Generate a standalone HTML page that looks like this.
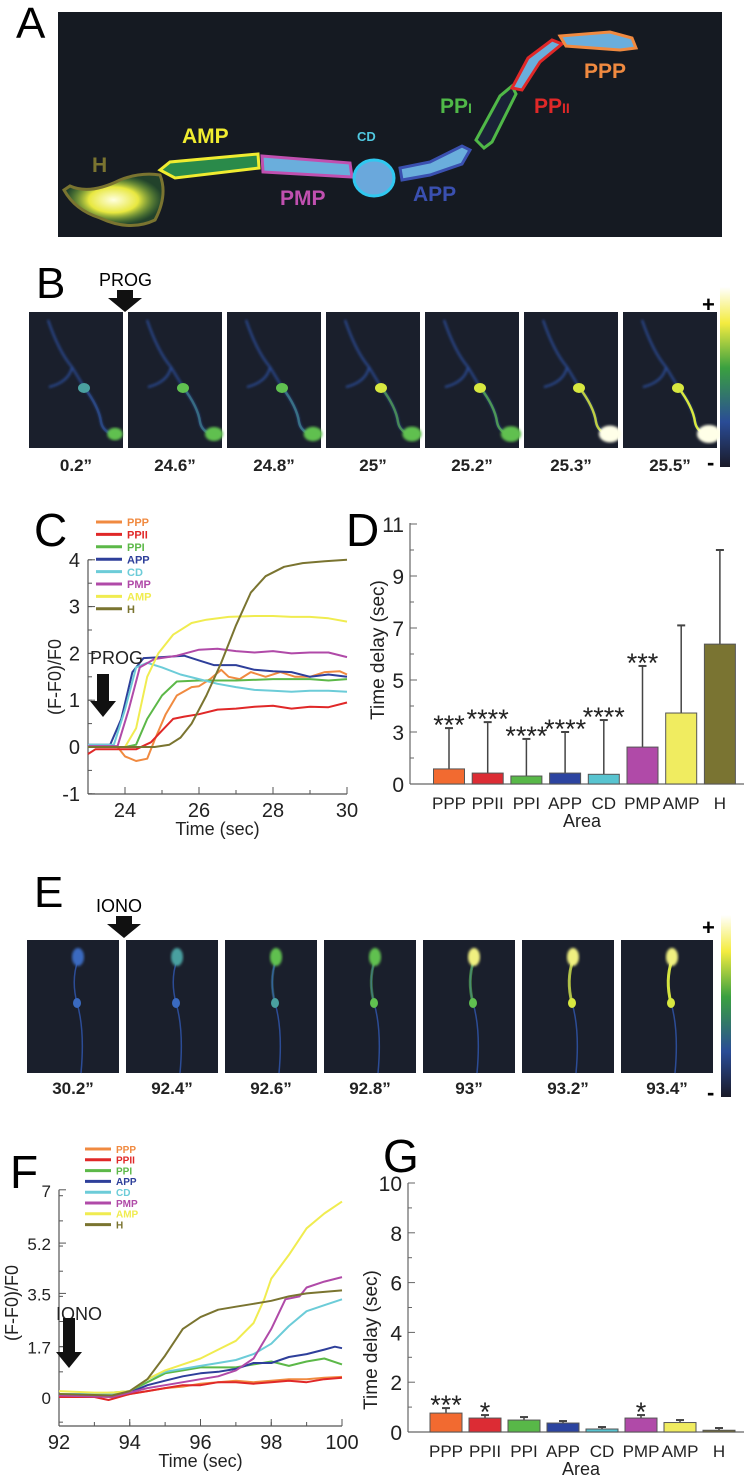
<!DOCTYPE html>
<html><head><meta charset="utf-8"><style>
html,body{margin:0;padding:0;background:#fff;}
svg{display:block;font-family:"Liberation Sans",sans-serif;}
</style></head><body>
<svg id="fig" width="744" height="1478" viewBox="0 0 744 1478" xmlns="http://www.w3.org/2000/svg">
<defs>
<linearGradient id="cbar" x1="0" y1="0" x2="0" y2="1">
<stop offset="0" stop-color="#ffffff"/><stop offset="0.2" stop-color="#f4ec40"/><stop offset="0.45" stop-color="#3aa040"/><stop offset="0.75" stop-color="#2a4c96"/><stop offset="1" stop-color="#1a1a28"/>
</linearGradient>
<radialGradient id="glowY"><stop offset="0" stop-color="#ffffe0"/><stop offset="0.5" stop-color="#e8e840"/><stop offset="1" stop-color="#40a040" stop-opacity="0.3"/></radialGradient>
<filter id="blur1"><feGaussianBlur stdDeviation="1.2"/></filter>
</defs>

<!-- Panel A -->
<text x="16" y="38" font-size="44">A</text>
<g>
<rect x="58" y="12" width="664" height="225" fill="#151a22"/>
<path d="M64,190 Q75,210 100,218 Q130,232 155,220 Q168,195 160,175 Q140,172 120,180 Q90,195 70,186 Z" fill="url(#glowY)" stroke="#7a7430" stroke-width="3"/>
<path d="M160,170 L170,162 L258,154 L259,168 L175,178 Z" fill="#2a8a4a" stroke="#f0ec30" stroke-width="3"/>
<path d="M262,156 L350,163 L352,177 L263,172 Z" fill="#6aaedc" stroke="#c050b0" stroke-width="3"/>
<ellipse cx="374" cy="178" rx="20" ry="18" fill="#6aa8dc" stroke="#30c8f0" stroke-width="3"/>
<path d="M400,168 L430,162 L462,146 L470,150 L462,164 L430,175 L402,180 Z" fill="#6aaedc" stroke="#3a50b0" stroke-width="3"/>
<path d="M476,140 L500,96 L512,86 L516,94 L492,142 L484,148 Z" fill="#1a2236" stroke="#50b848" stroke-width="3"/>
<path d="M512,88 L528,58 L552,40 L562,44 L540,62 L522,90 Z" fill="#6aaedc" stroke="#e02828" stroke-width="3"/>
<path d="M560,36 L610,32 L632,38 L636,48 L620,50 L566,46 Z" fill="#6aaedc" stroke="#f08a40" stroke-width="3"/>
<g font-weight="bold" font-size="21">
<text x="92" y="172" fill="#7a7430">H</text>
<text x="182" y="143" fill="#f0ec30">AMP</text>
<text x="357" y="141" fill="#50c8e0" font-size="13">CD</text>
<text x="280" y="205" fill="#c050b0">PMP</text>
<text x="413" y="201" fill="#3a50b0">APP</text>
<text x="440" y="113" fill="#50b848">PP<tspan font-size="14">I</tspan></text>
<text x="534" y="113" fill="#e02828">PP<tspan font-size="14">II</tspan></text>
<text x="584" y="78" fill="#f08a40">PPP</text>
</g>
</g>

<!-- Panel B -->
<text x="36" y="298" font-size="44">B</text>
<text x="99" y="286" font-size="18">PROG</text>
<path d="M117,290 h16 v8 h9 l-17,14 l-17,-14 h9 z" fill="#111"/>
<g id="framesB"></g>
<rect x="720" y="287" width="10" height="180" fill="url(#cbar)"/>
<text x="702" y="312" font-size="22" font-weight="bold">+</text>
<text x="707" y="470" font-size="22" font-weight="bold">-</text>

<!-- Panel E -->
<text x="34" y="907" font-size="44">E</text>
<text x="96" y="912" font-size="18">IONO</text>
<path d="M116,916 h16 v8 h9 l-17,14 l-17,-14 h9 z" fill="#111"/>
<g id="framesE"></g>
<rect x="721" y="915" width="10" height="182" fill="url(#cbar)"/>
<text x="702" y="935" font-size="22" font-weight="bold">+</text>
<text x="707" y="1100" font-size="22" font-weight="bold">-</text>

<text x="34" y="546" font-size="46">C</text>
<text x="346" y="546" font-size="46">D</text>
<text x="10" y="1188" font-size="46">F</text>
<text x="383" y="1172" font-size="46">G</text>

<g id="chartC"></g>
<g id="chartD"></g>
<g id="chartF"></g>
<g id="chartG"></g>
</svg>

<script>
// ---------- Panel C data ----------
const cXTicks = [24, 26, 28, 30];
const cYTicks = [-1, 0, 1, 2, 3, 4];
const cPPP_t = [23,23.8,24,24.3,24.6,24.8,25.1,25.4,25.8,26,26.3,26.6,26.8,27.1,27.4,27.8,28.2,28.6,29,29.4,29.8,30];
const cPPP_v = [0,0,-0.2,-0.3,-0.25,0.15,0.7,1.1,1.28,1.3,1.45,1.65,1.5,1.45,1.6,1.5,1.6,1.5,1.5,1.6,1.62,1.55];
const cPPII_t = [23,23.2,24,24.3,24.7,25,25.3,25.6,26,26.5,27,27.5,28,28.5,29,29.5,30];
const cPPII_v = [-0.15,-0.05,-0.05,-0.05,0.1,0.35,0.6,0.65,0.7,0.8,0.82,0.86,0.88,0.82,0.86,0.85,0.95];
const cPPI_t = [23,24,24.3,24.6,25,25.4,26,27,28,29,29.5,30];
const cPPI_v = [0,0,0.05,0.6,1.1,1.4,1.42,1.42,1.45,1.45,1.42,1.45];
const cAPP_t = [23,23.6,23.9,24.2,24.5,25,25.6,26,26.4,27,27.5,28,28.5,29,29.5,30];
const cAPP_v = [0.05,0.05,0.6,1.6,1.9,1.92,1.95,1.85,1.75,1.75,1.65,1.62,1.6,1.5,1.55,1.5];
const cCD_t = [23,23.7,24,24.3,24.6,25,25.5,26,26.5,27,27.5,28,28.5,29,29.5,30];
const cCD_v = [0.05,0.05,0.8,1.7,1.8,1.7,1.55,1.45,1.35,1.28,1.22,1.2,1.18,1.2,1.2,1.18];
const cPMP_t = [23,23.8,24.1,24.4,24.8,25.4,26,26.5,27,27.5,28,28.5,29,29.5,30];
const cPMP_v = [0.02,0.02,0.8,1.7,1.88,1.95,2.08,2.1,2.05,2.02,2.05,2.0,2.02,2.02,1.92];
const cAMP_t = [23,24,24.3,24.6,24.9,25.3,25.8,26.2,26.8,27.5,28,28.5,29,29.5,30];
const cAMP_v = [0,0,0.4,1.5,2.0,2.4,2.65,2.72,2.78,2.8,2.8,2.78,2.78,2.75,2.68];
const cH_t = [23,24.8,25.2,25.5,25.8,26.2,26.6,27,27.4,27.8,28.3,28.8,29.4,30];
const cH_v = [0,0,0.05,0.2,0.5,1.1,1.8,2.6,3.3,3.65,3.85,3.93,3.97,4.0];

// ---------- Panel F data ----------
const fXTicks = [92, 94, 96, 98, 100];
const fYTicks = [0, 1.7, 3.5, 5.2, 7];
const fPPP_t = [92,93,93.5,94,94.5,95,95.5,96,96.5,97,97.5,98,98.5,99,99.5,100];
const fPPP_v = [0.05,0.02,0,0.1,0.2,0.3,0.35,0.45,0.5,0.55,0.5,0.55,0.6,0.6,0.65,0.68];
const fPPII_t = [92,92.5,93,93.4,94,94.5,95,95.5,96,96.5,97,97.5,98,98.5,99,99.5,100];
const fPPII_v = [0,0,0,-0.1,0.1,0.2,0.3,0.4,0.4,0.5,0.5,0.45,0.5,0.55,0.5,0.6,0.65];
const fPPI_t = [92,93,93.5,94,94.5,95,95.5,96,96.5,97,97.5,98,98.5,99,99.5,100];
const fPPI_v = [0.1,0.1,0.15,0.2,0.5,0.8,0.9,1.0,1.0,1.0,1.1,1.2,1.05,1.2,1.3,1.1];
const fAPP_t = [92,93.5,94,94.5,95,95.5,96,96.5,97,97.5,98,98.5,99,99.5,99.8,100];
const fAPP_v = [0.1,0.05,0.15,0.4,0.55,0.7,0.8,0.85,0.95,1.15,1.15,1.35,1.45,1.6,1.7,1.65];
const fCD_t = [92,93.5,94,94.5,95,95.5,96,96.5,97,97.5,98,98.5,99,99.5,100];
const fCD_v = [0.1,0.1,0.2,0.6,0.85,0.95,1.05,1.15,1.25,1.45,1.8,2.4,2.9,3.1,3.3];
const fPMP_t = [92,93.5,94,94.5,95,95.5,96,96.5,97,97.5,98,98.4,98.8,99,99.5,100];
const fPMP_v = [0.05,0,0.15,0.3,0.4,0.5,0.6,0.7,0.9,1.3,2.3,3.3,3.4,3.7,3.9,4.05];
const fAMP_t = [92,93,93.5,94,94.5,95,95.5,96,96.5,97,97.5,97.8,98,98.5,99,99.5,100];
const fAMP_v = [0.2,0.15,0.15,0.2,0.6,0.9,1.1,1.3,1.6,1.9,2.5,3.3,4.0,4.8,5.7,6.2,6.6];
const fH_t = [92,93.5,94,94.5,95,95.5,96,96.5,97,97.5,98,98.5,99,99.5,100];
const fH_v = [0.1,0.05,0.2,0.6,1.4,2.3,2.7,2.95,3.05,3.15,3.25,3.4,3.5,3.55,3.6];

// ---------- Panel D / G data ----------
const areas = ['PPP','PPII','PPI','APP','CD','PMP','AMP','H'];
const dMeans = [0.87,0.63,0.46,0.63,0.56,2.13,3.73,6.38];
const dErrTops = [3.15,3.38,2.6,3.0,3.46,5.54,7.1,10.0];
const dStars = ['***','****','****','****','****','***','',''];
const dYTicks = [0,3,5,7,9,11];
const gMeans = [0.76,0.56,0.48,0.36,0.12,0.56,0.38,0.07];
const gErrTops = [0.96,0.68,0.6,0.44,0.2,0.68,0.48,0.16];
const gStars = ['***','*','','','','*','',''];
const gYTicks = [0,2,4,6,8,10];

const areaColors = ['#f26a30','#dc2c34','#58b848','#2c44a0','#58c4d0','#b04aa8','#f0ec60','#7a7432'];
const lineColors = ['#f08a40','#e02828','#5cb848','#2e3f9a','#6cccd8','#b04aa8','#f0ec50','#7a7430'];

const NS = 'http://www.w3.org/2000/svg';
function mk(parent, tag, attrs, text) {
  const e = document.createElementNS(NS, tag);
  for (const k in attrs) e.setAttribute(k, attrs[k]);
  if (text !== undefined) e.textContent = text;
  parent.appendChild(e);
  return e;
}

function lineChart(g, cfg) {
  const {x0,x1,t0,t1,y0,v0,ppu,yBot,xTicks,yTicks,series,legY,legStep,legFont,legX,yLabelX,yLabelY,arrowLabel,arrow,tickFont,yTickFont,minorX,minorY,yMin,yMax} = cfg;
  const sx = t => x0 + (t - t0) / (t1 - t0) * (x1 - x0);
  const sy = v => y0 - (v - v0) * ppu;
  const yTop = sy(yMax);
  const ax = mk(g, 'line', {x1:x0, y1:yTop, x2:x0, y2:yBot, stroke:'#555', 'stroke-width':1.2});
  
  
  const bx = mk(g, 'line', {x1:x0, y1:yBot, x2:x1, y2:yBot, stroke:'#555', 'stroke-width':1.2});
  
  
  for (let t = t0; t <= t1 + 1e-6; t += minorX) {
    const tk = mk(g, 'line', {x1:sx(t), y1:yBot, x2:sx(t), y2:yBot-4, stroke:'#555'});
    
    
  }
  for (let v = yMin; v <= yMax + 1e-6; v += minorY) {
    const tk = mk(g, 'line', {x1:x0, y1:sy(v), x2:x0+4, y2:sy(v), stroke:'#555'});
    
    
  }
  xTicks.forEach(t => {
    const tk = mk(g, 'line', {x1:sx(t), y1:yBot, x2:sx(t), y2:yBot-7, stroke:'#555'});
    
    
    const lb = mk(g, 'text', {x:sx(t), y:yBot+23, 'font-size':tickFont, 'text-anchor':'middle', fill:'#222'}, String(t));
    
    
  });
  yTicks.forEach(v => {
    const tk = mk(g, 'line', {x1:x0, y1:sy(v), x2:x0+7, y2:sy(v), stroke:'#555'});
    
    
    const lb = mk(g, 'text', {x:x0-8, y:sy(v)+7, 'font-size':yTickFont, 'text-anchor':'end', fill:'#222'}, String(v));
    
    
  });
  const xl = mk(g, 'text', {x:(x0+x1)/2, y:yBot+41, 'font-size':18, 'text-anchor':'middle', fill:'#222'}, 'Time (sec)');
  
  
  const yl = mk(g, 'text', {x:yLabelX, y:yLabelY, 'font-size':18, 'text-anchor':'middle', fill:'#222', transform:`rotate(-90 ${yLabelX} ${yLabelY})`}, '(F-F0)/F0');
  
  
  series.forEach((s, i) => {
    const pts = s.t.map((t, j) => sx(t).toFixed(1) + ',' + sy(s.v[j]).toFixed(1)).join(' ');
    const pl = mk(g, 'polyline', {points:pts, fill:'none', stroke:lineColors[i], 'stroke-width':2, 'stroke-linejoin':'round'});
    
    
  });
  series.forEach((s, i) => {
    const yy = legY + i * legStep;
    const ll = mk(g, 'line', {x1:legX, y1:yy, x2:legX+26, y2:yy, stroke:lineColors[i], 'stroke-width':3});
    
    
    const lt = mk(g, 'text', {x:legX+31, y:yy+legFont*0.38, 'font-size':legFont, 'font-weight':'bold', fill:lineColors[i]}, s.name);
    
    
  });
  const at = mk(g, 'text', {x:arrow.x-2, y:arrow.ty, 'font-size':18, fill:'#222'}, arrowLabel);
  
  
  const ar = mk(g, 'path', {d:`M${arrow.x+5},${arrow.y} h12 v${arrow.h-16} h7 l-13,16 l-13,-16 h7 z`, fill:'#111'});
  
  
}

lineChart(document.getElementById('chartC'), {
  x0:88, x1:347, t0:23, t1:30, y0:747, v0:0, ppu:46.8, yBot:794, yMin:-1, yMax:4,
  xTicks:cXTicks, yTicks:cYTicks, minorX:1, minorY:0.5, tickFont:20, yTickFont:20,
  series:[{name:'PPP',t:cPPP_t,v:cPPP_v},{name:'PPII',t:cPPII_t,v:cPPII_v},{name:'PPI',t:cPPI_t,v:cPPI_v},{name:'APP',t:cAPP_t,v:cAPP_v},{name:'CD',t:cCD_t,v:cCD_v},{name:'PMP',t:cPMP_t,v:cPMP_v},{name:'AMP',t:cAMP_t,v:cAMP_v},{name:'H',t:cH_t,v:cH_v}],
  legX:96, legY:522, legStep:12.4, legFont:11, yLabelX:61, yLabelY:677,
  arrowLabel:'PROG', arrow:{x:92, ty:664, y:674, h:43}
});
lineChart(document.getElementById('chartF'), {
  x0:59, x1:342, t0:92, t1:100, y0:1397, v0:0, ppu:29.6, yBot:1426, yMin:-0.85, yMax:7,
  xTicks:fXTicks, yTicks:fYTicks, minorX:1, minorY:0.85, tickFont:20, yTickFont:17,
  series:[{name:'PPP',t:fPPP_t,v:fPPP_v},{name:'PPII',t:fPPII_t,v:fPPII_v},{name:'PPI',t:fPPI_t,v:fPPI_v},{name:'APP',t:fAPP_t,v:fAPP_v},{name:'CD',t:fCD_t,v:fCD_v},{name:'PMP',t:fPMP_t,v:fPMP_v},{name:'AMP',t:fAMP_t,v:fAMP_v},{name:'H',t:fH_t,v:fH_v}],
  legX:85, legY:1149, legStep:10.8, legFont:10, yLabelX:18, yLabelY:1303,
  arrowLabel:'IONO', arrow:{x:58, ty:1320, y:1318, h:50}
});

function barChart(g, cfg) {
  const {x0, xEnd, c0, step, bw, sy, yTicks, minor, means, errs, stars, yBot, yLabelX, yLabelY, yTop} = cfg;
  const ax = mk(g, 'line', {x1:x0, y1:yTop, x2:x0, y2:yBot, stroke:'#666', 'stroke-width':1.2});
  
  
  const bx = mk(g, 'line', {x1:x0, y1:yBot, x2:xEnd, y2:yBot, stroke:'#666', 'stroke-width':1.2});
  
  
  minor.forEach(v => {
    const tk = mk(g, 'line', {x1:x0, y1:sy(v), x2:x0+4, y2:sy(v), stroke:'#666'});
    
    
  });
  yTicks.forEach(v => {
    const tk = mk(g, 'line', {x1:x0, y1:sy(v), x2:x0+7, y2:sy(v), stroke:'#666'});
    
    
    const lb = mk(g, 'text', {x:x0-6, y:sy(v)+8, 'font-size':21, 'text-anchor':'end', fill:'#222'}, String(v));
    
    
  });
  areas.forEach((a, i) => {
    const cx = c0 + i * step;
    const top = sy(means[i]);
    const el = mk(g, 'line', {x1:cx, y1:sy(errs[i]), x2:cx, y2:top, stroke:'#444', 'stroke-width':1.5});
    
    
    const ec = mk(g, 'line', {x1:cx-4, y1:sy(errs[i]), x2:cx+4, y2:sy(errs[i]), stroke:'#444', 'stroke-width':2});
    
    
    const r = mk(g, 'rect', {x:cx-bw/2, y:top, width:bw, height:Math.max(yBot-top,1), fill:areaColors[i], stroke:'#555', 'stroke-width':1});
    
    
    const tl = mk(g, 'text', {x:cx, y:yBot+25, 'font-size':17, 'text-anchor':'middle', fill:'#222'}, a);
    
    
    if (stars[i]) {
      const st = mk(g, 'text', {x:cx, y:sy(errs[i]) + 6, 'font-size':27, 'text-anchor':'middle', fill:'#222'}, stars[i]);
      
      
    }
  });
  const xl = mk(g, 'text', {x:(x0+xEnd)/2 + 5, y:yBot+43, 'font-size':18, 'text-anchor':'middle', fill:'#222'}, 'Area');
  
  
  const yl = mk(g, 'text', {x:yLabelX, y:yLabelY, 'font-size':19, 'text-anchor':'middle', fill:'#222', transform:`rotate(-90 ${yLabelX} ${yLabelY})`}, 'Time delay (sec)');
  
  
}

const syD = v => v <= 3 ? 784 - v * (52/3) : 732 - (v - 3) * 26;
barChart(document.getElementById('chartD'), {
  x0:410, xEnd:744, c0:449, step:38.7, bw:31, sy:syD, yTicks:dYTicks, minor:[1.5,4,6,8,10],
  means:dMeans, errs:dErrTops, stars:dStars, yBot:784, yTop:523, yLabelX:384, yLabelY:650
});
const syG = v => 1432 - v * 24.9;
barChart(document.getElementById('chartG'), {
  x0:408, xEnd:744, c0:446, step:39, bw:32, sy:syG, yTicks:gYTicks, minor:[1,3,5,7,9],
  means:gMeans, errs:gErrTops, stars:gStars, yBot:1432, yTop:1183, yLabelX:377, yLabelY:1340
});

// ---------- Image frames ----------
const bLabels = ['0.2”','24.6”','24.8”','25”','25.2”','25.3”','25.5”'];
const bIntensity = [0.3,0.5,0.55,0.6,0.7,0.85,1.0];
const eLabels = ['30.2”','92.4”','92.6”','92.8”','93”','93.2”','93.4”'];
const eIntensity = [0.2,0.3,0.5,0.6,0.7,0.85,1.0];
function bright(k) { return k < 0.4 ? '#3a6ac0' : k < 0.6 ? '#4aa0a0' : k < 0.8 ? '#60c050' : '#d8e840'; }

const fb = document.getElementById('framesB');
bLabels.forEach((lab, i) => {
  const x = 29 + i * 99, y = 312, k = bIntensity[i];
  const fg = mk(fb, 'g', {transform:`translate(${x},${y})`});
  
  
  mk(fg, 'rect', {width:94, height:136, fill:'#1a1f2c'});
  mk(fg, 'path', {d:'M19,8 Q30,40 43,55 Q40,70 20,75 M43,55 L55,75 Q70,95 72,110 Q74,120 86,122', fill:'none', stroke:'#2c4c96', 'stroke-width':2, filter:'url(#blur1)'});
  mk(fg, 'path', {d:'M55,75 Q70,95 72,110 Q74,120 84,122', fill:'none', stroke:bright(k), 'stroke-width':2.5, 'stroke-opacity':k});
  mk(fg, 'ellipse', {cx:55, cy:76, rx:6, ry:5, fill:bright(k+0.2)});
  mk(fg, 'ellipse', {cx:86, cy:122, rx:6 + k*6, ry:5 + k*4, fill:k > 0.8 ? '#ffffe8' : '#60c050', filter:'url(#blur1)'});
  const t = mk(fb, 'text', {x:x+47, y:471, 'font-size':17, 'font-weight':'bold', 'text-anchor':'middle', fill:'#222'}, lab);
  
  
});

const fe = document.getElementById('framesE');
eLabels.forEach((lab, i) => {
  const x = 27 + i * 99, y = 940, k = eIntensity[i];
  const fg = mk(fe, 'g', {transform:`translate(${x},${y})`});
  
  
  mk(fg, 'rect', {width:92, height:133, fill:'#1a1f2c'});
  mk(fg, 'path', {d:'M51,20 Q44,40 50,63 Q58,90 54,133', fill:'none', stroke:'#2c4c96', 'stroke-width':1.5});
  mk(fg, 'path', {d:'M51,20 Q44,40 50,63', fill:'none', stroke:bright(k), 'stroke-width':3, 'stroke-opacity':Math.max(0, k-0.3)*1.4});
  mk(fg, 'ellipse', {cx:51, cy:17, rx:6, ry:9, fill:k > 0.6 ? '#f0f080' : bright(k+0.1), filter:'url(#blur1)'});
  mk(fg, 'ellipse', {cx:50, cy:63, rx:4, ry:5, fill:bright(k)});
  const t = mk(fe, 'text', {x:x+46, y:1094, 'font-size':17, 'font-weight':'bold', 'text-anchor':'middle', fill:'#222'}, lab);
  
  
});
</script>
</body></html>
